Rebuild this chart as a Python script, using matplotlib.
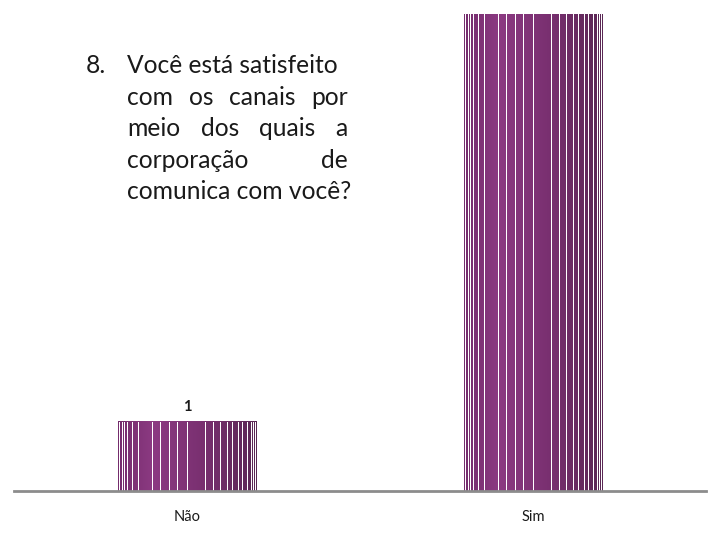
import numpy as np
import matplotlib
matplotlib.use("Agg")
import matplotlib.pyplot as plt
from matplotlib.colors import LinearSegmentedColormap

categories = ["Não", "Sim"]
values = [1, 7]
value_labels = ["1", "7"]

question_number = "8."
question_lines = [
    "Você está satisfeito",
    "com os canais por",
    "meio dos quais a",
    "corporação de",
    "comunica com você?",
]
justified = [False, True, True, True, False]

plt.rcParams['font.family'] = ['Lato', 'DejaVu Sans']

W, H = 720, 540
fig = plt.figure(figsize=(7.2, 5.4), dpi=100)
ax = fig.add_axes([14 / W, (540 - 491) / H, 692 / W, 477 / H])

purple = LinearSegmentedColormap.from_list(
    "barpurple",
    [(0.0, "#742c6c"), (0.25, "#8c3a82"), (0.6, "#7a3071"), (1.0, "#5a2754")])
stripes = [0.012, 0.027, 0.043, 0.067, 0.104, 0.147, 0.248, 0.308, 0.369,
           0.429, 0.501, 0.629, 0.689, 0.742, 0.786, 0.827, 0.870, 0.899,
           0.935, 0.959, 0.978, 0.990]

bw = 0.40
ymax = 6.91

bars = ax.bar(range(len(values)), values, width=bw, facecolor="none",
              linewidth=0, zorder=1)
grad = np.linspace(0, 1, 256).reshape(1, -1)
for i, (v, b) in enumerate(zip(values, bars)):
    x0 = b.get_x()
    im = ax.imshow(grad, cmap=purple, aspect="auto", interpolation="bilinear",
                   extent=(x0, x0 + bw, 0, v), zorder=2)
    im.set_clip_path(b)
    im.set_clip_box(ax.bbox)
    ax.vlines([x0 + f * bw for f in stripes], 0, v,
              colors="white", linewidth=0.72, zorder=3, antialiased=False)
    if v < ymax:
        ax.annotate(value_labels[i], (i, v), xytext=(0, 6),
                    textcoords="offset points", ha="center", va="bottom",
                    fontsize=10.5, fontweight="bold", color="#1a1a1a")

ax.set_xlim(-0.5, 1.5)
ax.set_ylim(0, ymax)
ax.axhline(0, color="#8c8c8c", linewidth=2, zorder=4, clip_on=False)
ax.set_xticks(range(len(categories)))
ax.set_xticklabels(categories, fontsize=10.5, color="#1a1a1a")
ax.tick_params(axis="x", length=0, pad=14)
ax.set_yticks([])
for s in ax.spines.values():
    s.set_visible(False)

# question text, justified like the slide box
fs = 17.7
left_px, right_px = 127, 348
baselines = [73, 105, 136, 168, 199]
fig.text(86 / W, 1 - baselines[0] / H, question_number, fontsize=fs,
         va="baseline", ha="left", color="#1a1a1a")
renderer = fig.canvas.get_renderer()
for line, y, just in zip(question_lines, baselines, justified):
    yf = 1 - y / H
    if not just:
        fig.text(left_px / W, yf, line, fontsize=fs, va="baseline",
                 ha="left", color="#1a1a1a")
        continue
    words = line.split()
    texts = [fig.text(0, yf, w, fontsize=fs, va="baseline", ha="left",
                      color="#1a1a1a") for w in words]
    widths = [t.get_window_extent(renderer).width for t in texts]
    gap = (right_px - left_px - sum(widths)) / (len(words) - 1)
    x = left_px
    for t, wd in zip(texts, widths):
        t.set_x(x / W)
        x += wd + gap

fig.savefig("out.png", dpi=100)
